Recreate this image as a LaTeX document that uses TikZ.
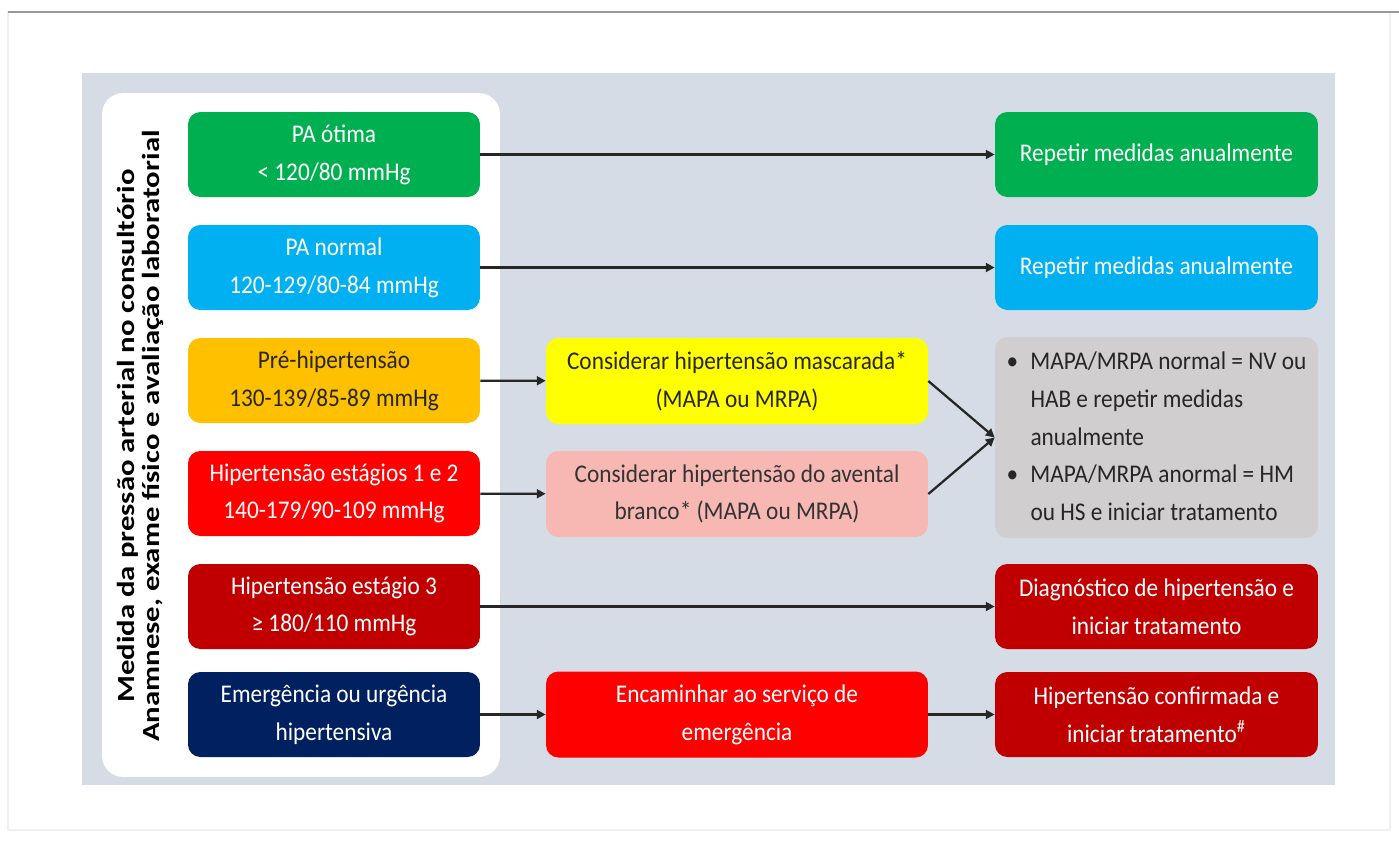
\documentclass[tikz,border=0pt]{standalone}
\usepackage{fontspec}
\setmainfont{Carlito}[FakeStretch=0.915]
\newfontfamily\sidefont{Carlito}[FakeStretch=1.25]
\usetikzlibrary{positioning, arrows.meta}
\definecolor{panelGrey}{HTML}{D6DCE5}
\definecolor{boxGreen}{HTML}{00B050}
\definecolor{boxBlue}{HTML}{00B0F0}
\definecolor{boxOrange}{HTML}{FFC000}
\definecolor{boxRed}{HTML}{FF0000}
\definecolor{boxDarkRed}{HTML}{C00000}
\definecolor{boxNavy}{HTML}{002060}
\definecolor{boxYellow}{HTML}{FFFF00}
\definecolor{boxPink}{HTML}{F7B8B3}
\definecolor{boxStone}{HTML}{D0CECE}

\begin{document}
\begin{tikzpicture}[
    x=0.02cm, y=-0.02cm,
    box/.style={rectangle, rounded corners=7pt, align=center, inner sep=3pt,
                font=\fontsize{14.5}{21.5}\selectfont, text=white},
    stage/.style={box, minimum width=5.84cm, minimum height=1.7cm},
    check/.style={box, minimum width=7.64cm, minimum height=1.72cm},
    result/.style={box, minimum width=6.46cm, minimum height=1.7cm},
    flow/.style={draw=black!85, line width=1.3pt, -{Triangle[length=5pt, width=5pt]}},
]
\useasboundingbox (0,0) rectangle (1399,843);
% frame and panels
\draw[black!6, line width=0.6pt] (8,12) rectangle (1390,830);
\draw[black!40, line width=1.2pt] (8,12) -- (1399,12);
\fill[panelGrey] (82,73) rectangle (1335,785);
\node[rectangle, fill=white, rounded corners=12pt, minimum width=7.96cm, minimum height=13.68cm]
      (sidebar) at (301,435) {};
\node[rotate=90, align=center, font=\sidefont\fontsize{14}{14.2}\selectfont\bfseries] (measure) at (140,436)
    {Medida da pressão arterial no consultório\\Anamnese, exame físico e avaliação laboratorial};

% left column
\node[stage, fill=boxGreen] (optimal) at (334,154.5) {PA ótima\\< 120/80 mmHg};
\node[stage, fill=boxBlue] (normal) at (334,267.5) {PA normal\\120-129/80-84 mmHg};
\node[stage, fill=boxOrange, text=black!85] (prehyp) at (334,380.5) {Pré-hipertensão\\130-139/85-89 mmHg};
\node[stage, fill=boxRed] (stage12) at (334,493.5) {Hipertensão estágios 1 e 2\\140-179/90-109 mmHg};
\node[stage, fill=boxDarkRed] (stage3) at (334,606.5) {Hipertensão estágio 3\\≥ 180/110 mmHg};
\node[stage, fill=boxNavy] (emerg) at (334,714.5) {Emergência ou urgência\\hipertensiva};

% middle column
\node[check, fill=boxYellow, text=black!85] (masked) at (737,381) {Considerar hipertensão mascarada*\\(MAPA ou MRPA)};
\node[check, fill=boxPink, text=black!80] (whitecoat) at (737,494) {Considerar hipertensão do avental\\branco* (MAPA ou MRPA)};
\node[check, fill=boxRed] (referral) at (737,714.5) {Encaminhar ao serviço de\\emergência};

% right column
\node[result, fill=boxGreen] (repeatA) at (1156.5,154.5) {Repetir medidas anualmente};
\node[result, fill=boxBlue] (repeatB) at (1156.5,267.5) {Repetir medidas anualmente};
\node[result, fill=boxStone, text=black!85, minimum height=4.02cm, align=left] (ambul) at (1156.5,437.5) {%
    \begin{tabular}{@{}l@{\hspace{7pt}}l@{}}
    \textbullet & MAPA/MRPA normal = NV ou\\
                & HAB e repetir medidas\\
                & anualmente\\
    \textbullet & MAPA/MRPA anormal = HM\\
                & ou HS e iniciar tratamento
    \end{tabular}};
\node[result, fill=boxDarkRed] (diagnosis) at (1156.5,606.5) {Diagnóstico de hipertensão e\\iniciar tratamento};
\node[result, fill=boxDarkRed] (confirmed) at (1156.5,714.5) {Hipertensão confirmada e\\iniciar tratamento\textsuperscript{\#}};

% connectors
\draw[flow] (optimal) -- (repeatA);
\draw[flow] (normal) -- (repeatB);
\draw[flow] (prehyp) -- (masked);
\draw[flow] (stage12) -- (whitecoat);
\draw[flow] (masked.east) -- (ambul.west);
\draw[flow] (whitecoat.east) -- (ambul.west);
\draw[flow] (stage3) -- (diagnosis);
\draw[flow] (emerg) -- (referral);
\draw[flow] (referral) -- (confirmed);
\end{tikzpicture}
\end{document}
